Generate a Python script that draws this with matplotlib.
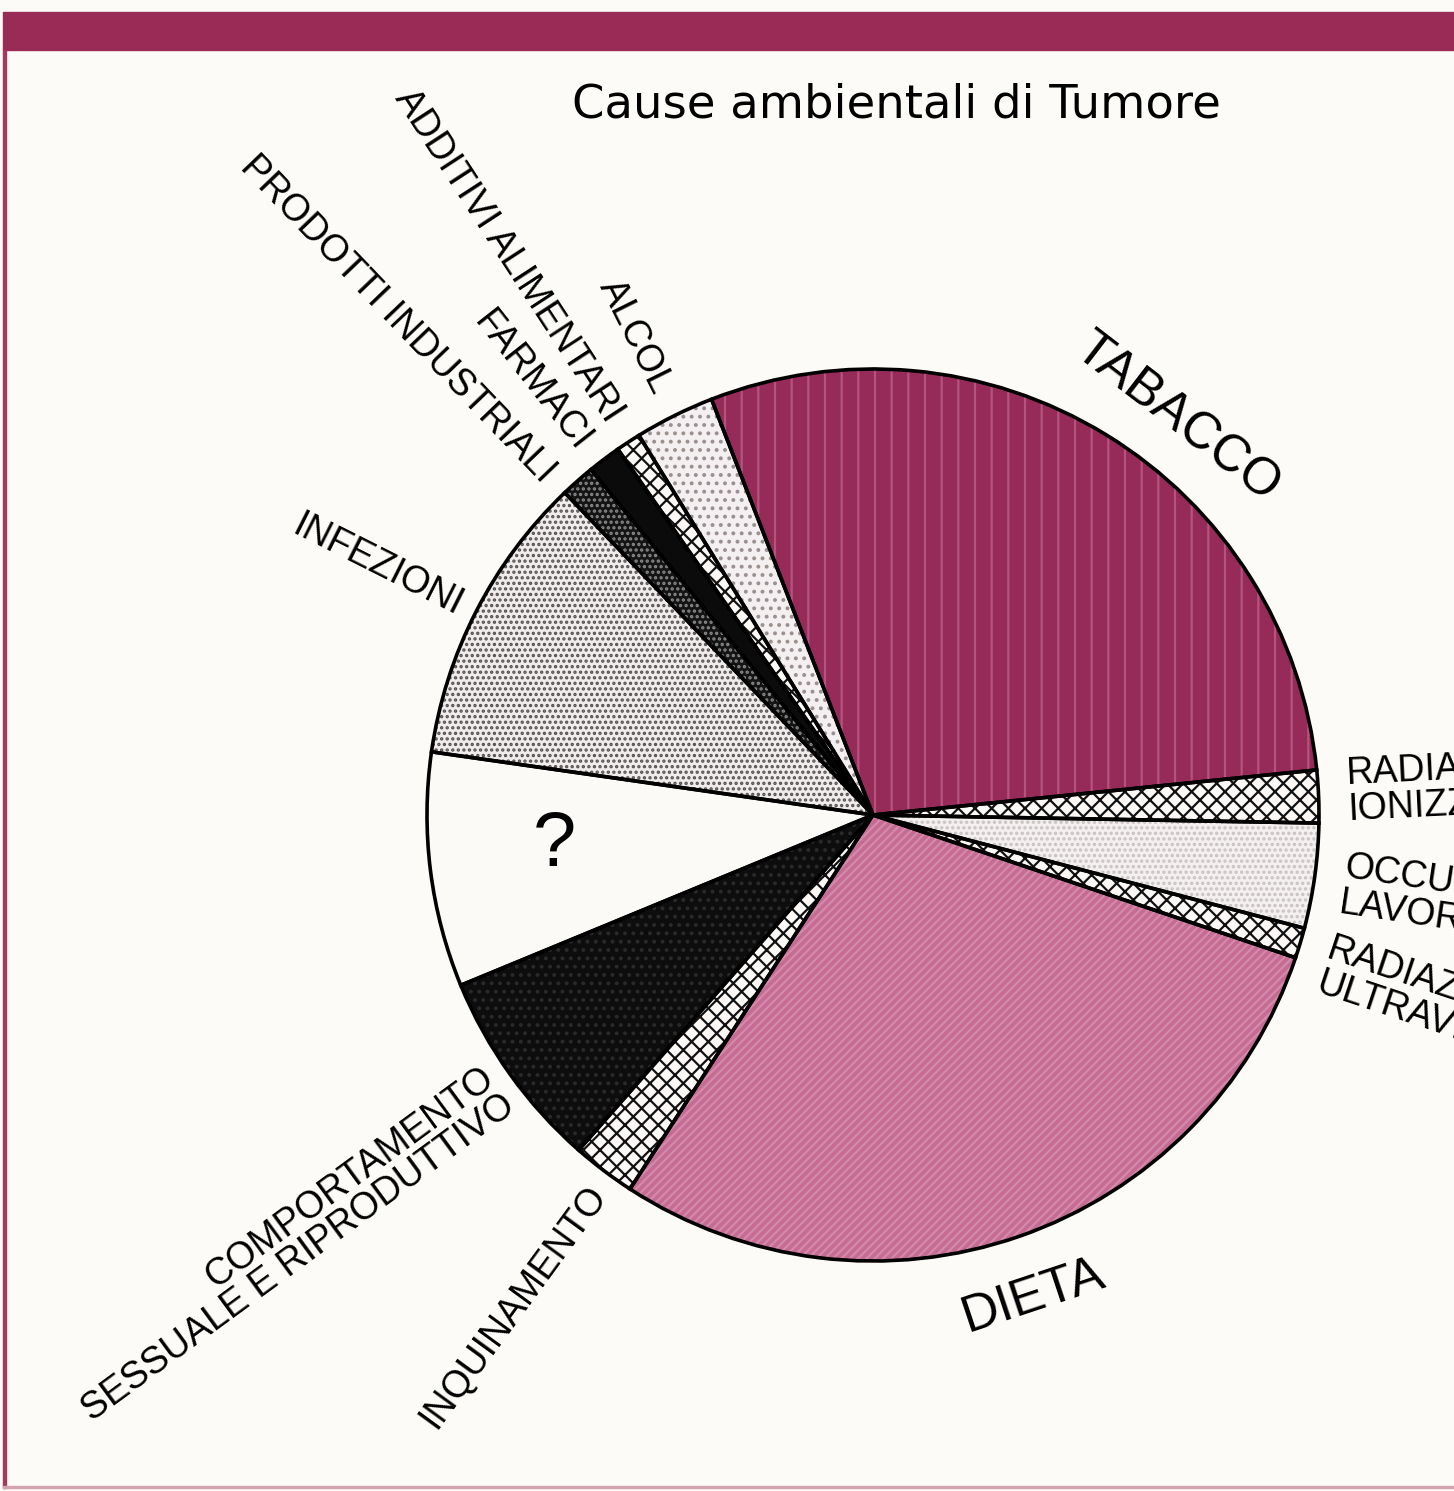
import matplotlib.pyplot as plt
import numpy as np
from matplotlib.patches import Wedge, Rectangle

plt.rcParams['hatch.linewidth'] = 1.6

# shares (percent, counter-clockwise from TABACCO)
categories = ['TABACCO', 'ALCOL', 'ADDITIVI ALIMENTARI', 'FARMACI',
              'PRODOTTI INDUSTRIALI', 'INFEZIONI', '?',
              'COMPORTAMENTO\nSESSUALE E RIPRODUTTIVO', 'INQUINAMENTO', 'DIETA',
              'RADIAZIONI\nULTRAVIOLETTE', 'OCCUPAZIONE\nLAVORATIVA',
              'RADIAZIONI\nIONIZZANTI']
shares = [29.3, 2.9, 0.9, 1.2, 1.25, 10.6, 8.5, 7.3, 2.3, 29.0, 1.1, 3.8, 1.9]
title = 'Cause ambientali di Tumore'

# fill style per slice: face colour, hatch, hatch colour
faces = ['#962a58', '#f4eff0', '#fbf8f6', '#0b0b0b', '#141414', '#f1ecec',
         '#fcfaf7', '#0d0d0d', '#fbf8f6', '#c66b93', '#fbf8f6', '#f4f0ef', '#fbf8f6']
hatches = ['|', '..', 'xx', '', '...', '...', '', '..', 'xx', '////', 'xx', '...', 'xx']
hatch_cols = ['#b4547e', '#9a9090', '#111111', '#0b0b0b', '#8a8a8a', '#555050',
              '#fcfaf7', '#2a2a2a', '#111111', '#d38aaa', '#111111', '#c8c2c2', '#111111']

# label layout: angular shift from slice middle (deg), radius (px)
label_shift = [-6, 0, -0.2, 1.1, 2.3, 0.5, -1.7, 0.7, 1.0, -0.7, -1.8, -0.6, 0.4]
label_r = [500, 473, 473, 468, 468, 462, 320, 462, 464, 507, 474, 474, 475]

W, H = 1454, 1491
cx, cy, R = 873, H - 815, 446

fig = plt.figure(figsize=(W / 100, H / 100), dpi=100, facecolor='#fcfbf7')
ax = fig.add_axes([0, 0, 1, 1])

wedges, _ = ax.pie(shares, startangle=5.8, counterclock=True, radius=R,
                   center=(cx, cy), wedgeprops=dict(linewidth=0))
for w, fc, h, hc in zip(wedges, faces, hatches, hatch_cols):
    w.set_facecolor(fc)
    w.set_hatch(h)
    w.set_edgecolor(hc)
    w.set_zorder(1)
    # black outline on top
    ax.add_patch(Wedge(w.center, w.r, w.theta1, w.theta2, fill=False,
                       edgecolor='black', linewidth=2.6, zorder=2))

for w, name, dth, r in zip(wedges, categories, label_shift, label_r):
    ang = (w.theta1 + w.theta2) / 2 + dth
    a = np.deg2rad(ang)
    x, y = cx + r * np.cos(a), cy + r * np.sin(a)
    if name == '?':
        ax.text(x, y, name, fontsize=56, family='Liberation Sans',
                ha='center', va='center')
    elif name in ('TABACCO', 'DIETA'):
        rot = ang - 90 if np.sin(a) > 0 else ang + 90
        ax.text(x, y, name, fontsize=37, family='Liberation Sans', rotation=rot,
                rotation_mode='anchor', ha='center', va='center')
    elif np.cos(a) < 0:
        ax.text(x, y, name, fontsize=27, family='Liberation Sans',
                rotation=ang - 180, rotation_mode='anchor', ha='right',
                va='center', multialignment='right', linespacing=0.95)
    else:
        # right-hand labels run off the page edge, as in the scan
        ax.text(x, y, name, fontsize=27, family='Liberation Sans',
                rotation=ang, rotation_mode='anchor', ha='left',
                va='center', multialignment='left', linespacing=1.0)

ax.set_xlim(0, W)
ax.set_ylim(0, H)
ax.set_aspect('equal')
ax.axis('off')

# page frame of the scanned figure
fig.patches.append(Rectangle((3 / W, 1 - 50 / H), 1, 38 / H, color='#9a2a56',
                             transform=fig.transFigure, figure=fig, zorder=0))
fig.patches.append(Rectangle((3 / W, 3 / H), 3 / W, 1 - 53 / H, color='#a3375f',
                             transform=fig.transFigure, figure=fig, zorder=0))
fig.patches.append(Rectangle((3 / W, 3 / H), 1, 2 / H, color='#d3a3b1',
                             transform=fig.transFigure, figure=fig, zorder=0))

fig.text(896 / W, 1 - 118 / H, title, fontsize=33.5, family='DejaVu Sans',
         ha='center', va='baseline')

fig.savefig('out.png', dpi=100, facecolor=fig.get_facecolor())
